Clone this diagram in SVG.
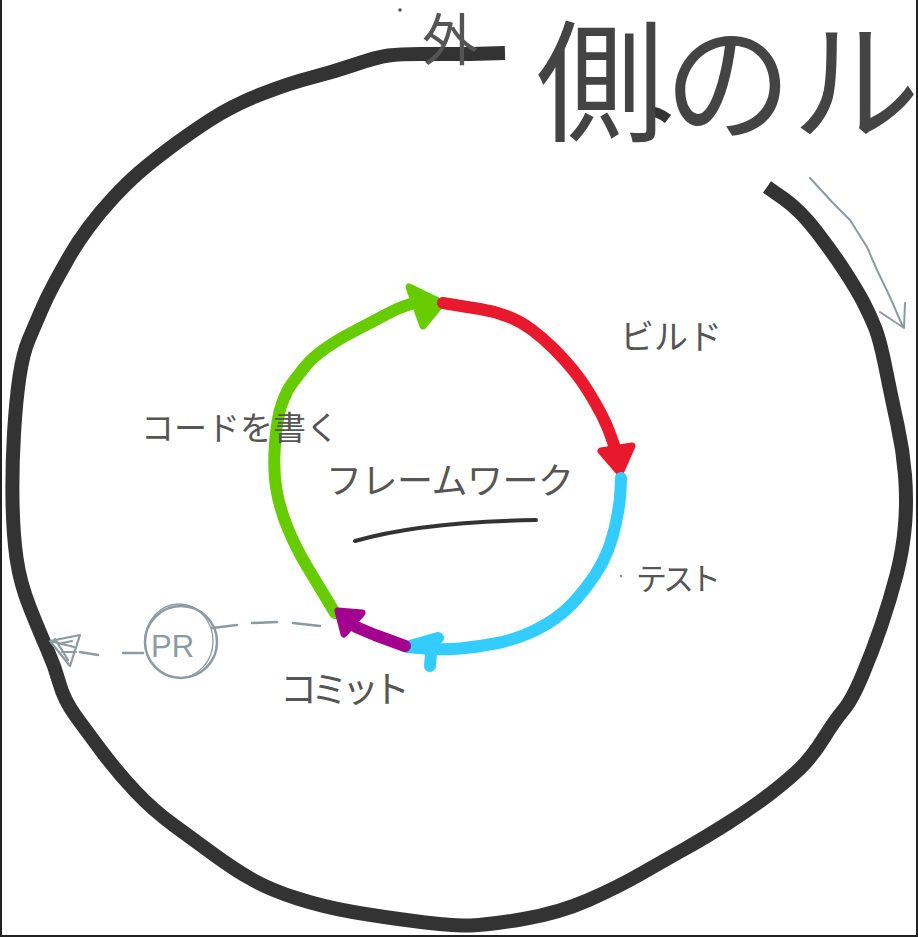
<svg xmlns="http://www.w3.org/2000/svg" width="918" height="937" viewBox="0 0 918 937">
<style>
.lbl{font-family:"Noto Sans CJK JP","Noto Sans",sans-serif;fill:#555}
.outer{fill:none;stroke:#333;stroke-width:14;stroke-linejoin:round}
.seg{fill:none;stroke-width:12;stroke-linecap:round;stroke-linejoin:round}
.gray{fill:none;stroke:#8a9ba1;stroke-linecap:round;stroke-linejoin:round}
</style>
<rect x="0" y="0" width="918" height="937" fill="#fff"/>
<path d="M1,0 V936 H917 V0" fill="none" stroke="#222" stroke-width="2"/>

<g id="outer-loop">
<path class="outer" d="M505,53 L487.5,53.5 Q470,54 455,54 Q440,54 420,54 Q400,54 388.5,55.5 Q377,57 355,64.5 Q333,72 311.5,77.5 Q290,83 261.5,94 Q233,105 210,120 Q187,135 168.5,149 Q150,163 138.5,173 Q127,183 113.5,197.5 Q100,212 88.5,227.5 Q77,243 68.5,258 Q60,273 53.5,285 Q47,297 41,311 Q35,325 29,339 Q23,353 19.5,376.5 Q16,400 14,433.5 Q12,467 12.5,500 Q13,533 16.5,558 Q20,583 30,608 Q40,633 47.5,650 Q55,667 59.5,683.5 Q64,700 76,716.5 Q88,733 103,753 Q118,773 135.5,791.5 Q153,810 173.5,825 Q194,840 214.5,855 Q235,870 253,880 Q271,890 297.5,898.5 Q324,907 353,912 Q382,917 417.5,921.5 Q453,926 470.5,925.5 Q488,925 523.5,919 Q559,913 588.5,900 Q618,887 641.5,873.5 Q665,860 685.5,848.5 Q706,837 729.5,822 Q753,807 770.5,793.5 Q788,780 800,768.5 Q812,757 823.5,738.5 Q835,720 843.5,710 Q852,700 862.5,675 Q873,650 881.5,625 Q890,600 896.5,575 Q903,550 905,525 Q907,500 905,475 Q903,450 897.5,425 Q892,400 886,370 Q880,340 875,327.5 Q870,315 863.5,302.5 Q857,290 845,271.5 Q833,253 816.5,231.5 Q800,210 783.5,198.5 L767,187"/>
<path d="M647,111 Q658,111 668,119" fill="none" stroke="#333" stroke-width="10"/>
<circle cx="400" cy="10" r="1.8" fill="#555"/>
<text class="lbl" x="422" y="60" font-size="56">外</text>
<text class="lbl" transform="translate(536,131) scale(0.97,1)" x="0" y="0" font-size="132" style="fill:#444">側のル</text>
</g>

<g id="framework">
<text class="lbl" x="326" y="494" font-size="36" letter-spacing="-0.5">フレームワーク</text>
<path d="M355,541 Q420,522 536,520" fill="none" stroke="#333" stroke-width="4" stroke-linecap="round"/>
</g>

<g id="connectors">
<g id="write-code-arrow">
<path class="seg" stroke="#66cc00" d="M335,613 L326,598 Q317,583 307,566.5 Q297,550 288.5,530 Q280,510 276.5,490 Q273,470 275,443.5 Q277,417 282,403.5 Q287,390 292,383.5 Q297,377 303.5,368.5 Q310,360 318.5,353.5 Q327,347 335,342 Q343,337 356.5,330 Q370,323 385,315 Q400,307 412.5,303.5 L425,300"/>
<polygon points="442,303 409,287 423,326" fill="#66cc00" stroke="#66cc00" stroke-width="7" stroke-linejoin="round"/>
</g>
<g id="build-arrow">
<path class="seg" stroke="#e8192c" d="M443,303 L455,305 Q467,307 480,309 Q493,311 506.5,316 Q520,321 531.5,329.5 Q543,338 554,349 Q565,360 573.5,370.5 Q582,381 589,392.5 Q596,404 601.5,414.5 Q607,425 611,436.5 L615,448"/>
<polygon points="620,473 601,451 632,446" fill="#e8192c" stroke="#e8192c" stroke-width="7" stroke-linejoin="round"/>
</g>
<g id="test-arrow">
<path class="seg" stroke="#33ccff" d="M621,478 L620.5,490.5 Q620,503 616.5,520 Q613,537 608,550 Q603,563 595,575 Q587,587 577,598.5 Q567,610 555,618.5 Q543,627 528,633.5 Q513,640 495,643.5 Q477,647 460,648.5 Q443,650 425,648.5 L407,647"/>
<path class="seg" stroke="#33ccff" stroke-width="9" d="M410,646 L438,638 M432,642 L430,666"/>
</g>
<g id="commit-arrow">
<path class="seg" stroke="#a3008f" d="M405,646 L375,635 L356,627"/>
<polygon points="338,611 362,613 344,634" fill="#a3008f" stroke="#a3008f" stroke-width="7" stroke-linejoin="round"/>
</g>
<g id="pr-link">
<path class="gray" stroke-width="2.5" d="M320,626 L293,623 M277,622 L252,623 M237,625 L212,628 M143,653 L123,653 M98,655 L80,652"/>
<path class="gray" stroke-width="2.2" d="M50,641 L80,635 L70,666 Z M50,641 L74,647 M58,644 L72,641 M62,652 L76,652 M55,639 L68,660"/>
</g>
<g id="outer-arrow">
<path class="gray" stroke-width="2" d="M810,178 L833,203 L850,220 L867,247 L877,270 L890,297 L903,327 M905,303 L904,328 L880,312"/>
</g>
</g>

<g id="pr">
<circle cx="181" cy="642" r="36" fill="none" stroke="#8a9ba1" stroke-width="2.5"/>
<ellipse cx="179" cy="641" rx="34" ry="37" fill="none" stroke="#8a9ba1" stroke-width="1.3"/>
<text x="151" y="657" font-family="Liberation Sans, sans-serif" font-size="31" fill="#8a9ba1">PR</text>
</g>

<g id="label-build"><text class="lbl" x="620" y="349" font-size="34">ビルド</text></g>
<g id="label-test"><circle cx="621" cy="576" r="1.2" fill="#888"/><text class="lbl" x="636" y="590" font-size="31" letter-spacing="-4">テスト</text></g>
<g id="label-write"><text class="lbl" x="141" y="440" font-size="33">コードを書く</text></g>
<g id="label-commit"><text class="lbl" x="280" y="703" font-size="37" letter-spacing="-6">コミット</text></g>
</svg>
